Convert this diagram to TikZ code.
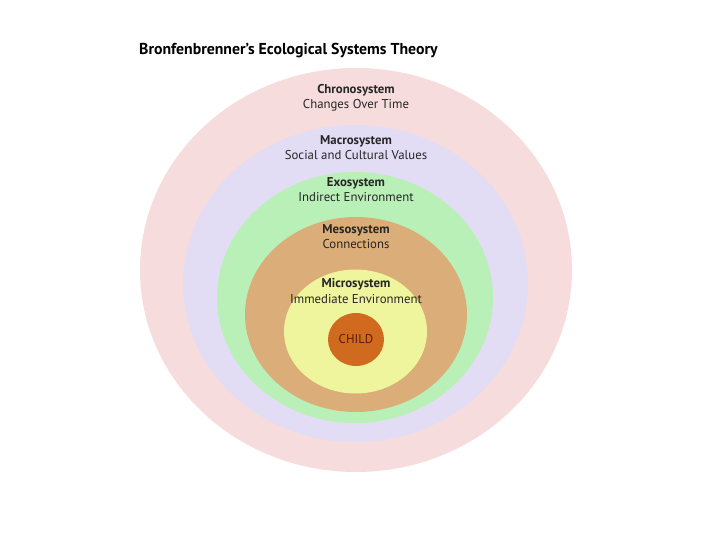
\documentclass[tikz,border=0pt]{standalone}
\usepackage{fontspec}
\setmainfont{PT Sans}
\usetikzlibrary{shapes.geometric, positioning}
\definecolor{chronocol}{HTML}{F6DCDD}
\definecolor{macrocol}{HTML}{E2DDF4}
\definecolor{exocol}{HTML}{B9F0B8}
\definecolor{mesocol}{HTML}{DBAD78}
\definecolor{microcol}{HTML}{EEF59C}
\definecolor{childcol}{HTML}{CF6A1E}
\definecolor{childink}{HTML}{5A1E10}
\tikzstyle{ring} = [ellipse, inner sep=0pt]
\tikzstyle{syslabel} = [align=center, font=\fontsize{12.8}{15.2}\selectfont, text=black!85]

\begin{document}
\begin{tikzpicture}[x=1pt, y=-1pt, every node/.style={inner sep=0pt}]
    \useasboundingbox (0,0) rectangle (720,540);
    \fill[white] (0,0) rectangle (720,540);
    % rings, outside to inside
    \node[ring, fill=chronocol, minimum width=432pt, minimum height=404pt] (chrono) at (356,270) {};
    \node[ring, fill=macrocol, minimum width=345pt, minimum height=317pt] (macro) at (355.5,283.5) {};
    \node[ring, fill=exocol, minimum width=276pt, minimum height=251pt] (exo) at (355,297.5) {};
    \node[ring, fill=mesocol, minimum width=222pt, minimum height=195pt] (meso) at (356,314.5) {};
    \node[ring, fill=microcol, minimum width=143pt, minimum height=124pt] (micro) at (355.5,331.5) {};
    \node[ring, fill=childcol, minimum width=56pt, minimum height=53pt, text=childink,
        font=\fontsize{12.8}{14}\selectfont] (child) at (356,339.5) {CHILD};
    % labels
    \node[anchor=west, font=\bfseries\fontsize{15.8}{18}\selectfont] (title) at (139,51) {Bronfenbrenner’s Ecological Systems Theory};
    \node[syslabel] (chronotxt) at (356,97.5) {\textbf{Chronosystem}\\Changes Over Time};
    \node[syslabel] (macrotxt) at (356,147.5) {\textbf{Macrosystem}\\Social and Cultural Values};
    \node[syslabel] (exotxt) at (356,189.5) {\textbf{Exosystem}\\Indirect Environment};
    \node[syslabel] (mesotxt) at (356,236.5) {\textbf{Mesosystem}\\Connections};
    \node[syslabel] (microtxt) at (356,291) {\textbf{Microsystem}\\Immediate Environment};
\end{tikzpicture}
\end{document}
